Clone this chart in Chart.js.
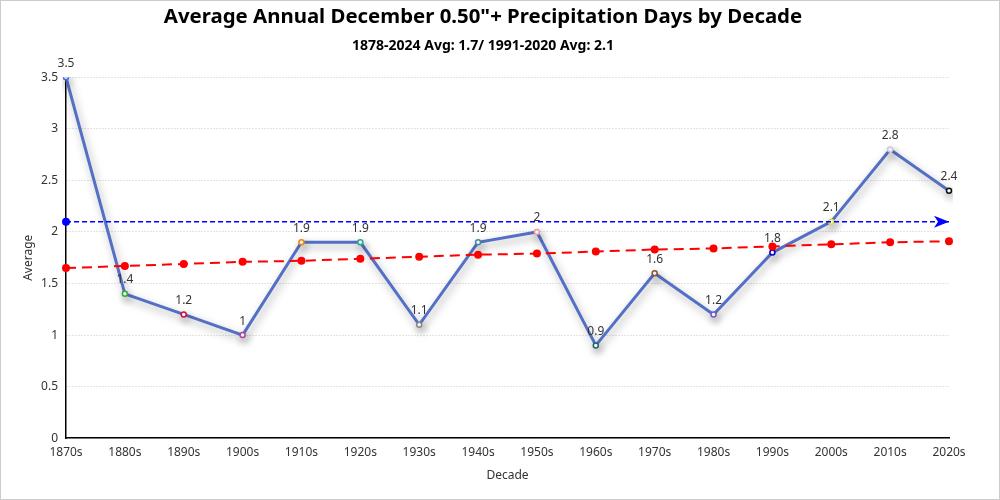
<!DOCTYPE html>
<html><head><meta charset="utf-8">
<script src="https://cdn.jsdelivr.net/npm/chart.js@4"></script>
<style>
html,body{margin:0;padding:0;background:#fff;}
#wrap{position:absolute;left:0;top:0;width:998px;height:498px;border:1px solid #ccc;}
</style></head><body>
<div id="wrap"><canvas id="c" width="998" height="498"></canvas></div>
<script>
const decades = ['1870s','1880s','1890s','1900s','1910s','1920s','1930s','1940s','1950s','1960s','1970s','1980s','1990s','2000s','2010s','2020s'];
const averages = [3.5,1.4,1.2,1.0,1.9,1.9,1.1,1.9,2.0,0.9,1.6,1.2,1.8,2.1,2.8,2.4];
const trend = [1.65,1.67,1.69,1.71,1.72,1.74,1.76,1.78,1.79,1.81,1.83,1.84,1.86,1.88,1.90,1.91];
const normalAvg = 2.1;
const pointColors = ['#3b6fd8','#33aa33','#cc1144','#aa44aa','#ee8800','#22aa99','#888888','#4488aa','#ee99aa','#226666','#885533','#7755cc','#0000cc','#dddd33','#c8c8e0','#111111'];
const yTicks = [0,0.5,1,1.5,2,2.5,3,3.5];

const FONT = "'Noto Sans', 'Open Sans', sans-serif";

const shadowPlugin = {
  id:'shadow',
  beforeDatasetDraw(chart, args){
    if(args.index===0){
      const ctx=chart.ctx; ctx.save();
      ctx.shadowColor='rgba(0,0,0,0.35)'; ctx.shadowBlur=8; ctx.shadowOffsetX=2; ctx.shadowOffsetY=4;
    }
  },
  afterDatasetDraw(chart, args){
    if(args.index===0){ chart.ctx.restore(); }
  }
};
const labelPlugin = {
  id:'vlabels',
  afterDatasetsDraw(chart){
    const meta=chart.getDatasetMeta(0); const ctx=chart.ctx;
    ctx.save(); ctx.font='12px '+FONT; ctx.fillStyle='#333'; ctx.textAlign='center'; ctx.textBaseline='middle';
    meta.data.forEach((p,i)=>{ ctx.fillText(String(averages[i]), p.x, p.y-14); });
    ctx.restore();
  }
};
// arrow head at end of the 2.1 reference line
const arrowPlugin = {
  id:'arrow',
  afterDatasetsDraw(chart){
    const meta=chart.getDatasetMeta(2); const pts=meta.data; const p=pts[pts.length-1];
    const ctx=chart.ctx; ctx.save(); ctx.fillStyle='#0000ff';
    ctx.beginPath();
    ctx.moveTo(p.x, p.y);
    ctx.lineTo(p.x-15, p.y-6);
    ctx.lineTo(p.x-11, p.y);
    ctx.lineTo(p.x-15, p.y+6);
    ctx.closePath(); ctx.fill(); ctx.restore();
  }
};

const blueData = decades.map((d,i)=> (i===0||i===decades.length-1)? normalAvg : null);
const blueRadius = decades.map((d,i)=> i===0 ? 4 : 0);

new Chart(document.getElementById('c'),{
  type:'line',
  data:{labels:decades,datasets:[
    {data:averages,borderColor:'#5470c6',borderWidth:3,pointRadius:2.5,pointHoverRadius:2.5,pointBackgroundColor:'#fff',pointBorderColor:pointColors,pointBorderWidth:1.5,tension:0,order:3},
    {data:trend,borderColor:'#ff0000',borderWidth:2,borderDash:[10,6],pointRadius:4,pointBackgroundColor:'#ff0000',pointBorderColor:'#ff0000',pointBorderWidth:0,tension:0,order:2},
    {data:blueData,spanGaps:true,borderColor:'#0000ff',borderWidth:1.5,borderDash:[5,3],pointRadius:blueRadius,pointBackgroundColor:'#0000ff',pointBorderColor:'#0000ff',pointBorderWidth:0,order:1}
  ]},
  options:{
    responsive:false,animation:false,
    layout:{padding:{left:16,right:50,top:0,bottom:12}},
    plugins:{
      legend:{display:false},tooltip:{enabled:false},
      title:{display:true,text:'Average Annual December 0.50"+ Precipitation Days by Decade',color:'#000',font:{family:FONT,size:20.4,weight:'bold'},padding:{top:4,bottom:8}},
      subtitle:{display:true,text:'1878-2024 Avg: 1.7/ 1991-2020 Avg: 2.1',color:'#000',font:{family:FONT,size:14,weight:'bold'},padding:{top:0,bottom:23}}
    },
    scales:{
      x:{offset:false,grid:{display:false,drawTicks:false},border:{display:true,color:'#000',width:1.5},
         ticks:{color:'#333',font:{family:FONT,size:12},padding:7,autoSkip:false,maxRotation:0},
         title:{display:true,text:'Decade',color:'#333',font:{family:FONT,size:12},padding:{top:2}}},
      y:{min:0,max:3.5,afterBuildTicks(s){s.ticks=yTicks.map(v=>({value:v}));},
         afterFit(s){s.width=49;},
         grid:{color:'#c8c8c8',drawTicks:false,lineWidth:1},border:{display:true,color:'#000',width:1.5,dash:[1,2]},
         ticks:{color:'#333',font:{family:FONT,size:12},padding:8,callback:(v)=>String(v)},
         title:{display:true,text:'Average',color:'#333',font:{family:FONT,size:12},padding:{bottom:0}}}
    }
  },
  plugins:[shadowPlugin,labelPlugin,arrowPlugin]
});
</script></body></html>
